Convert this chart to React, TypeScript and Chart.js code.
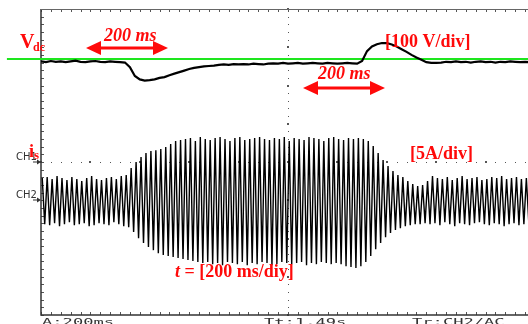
import React, { useEffect, useRef } from "react";
import { Chart, registerables } from "chart.js";

Chart.register(...registerables);

// Oscilloscope settings
const MS_PER_DIV = 200;
const VOLTS_PER_DIV = 100;
const AMPS_PER_DIV = 5;
const CH2_OFFSET_DIV = -0.97;
const SAMPLE_MS = 20; // one 50 Hz cycle per sample
const VDC_REF = 269;

// DC-link voltage (V), one sample per 20 ms
const vdcVolts = [
  263, 261, 264, 262, 263, 261, 263, 265, 262, 261, 263, 264, 262, 261, 263, 262, 261,
  260, 248, 225, 216, 213, 214, 216, 220, 222, 227, 231, 235, 239, 243, 246, 248, 250, 251, 252, 254,
  255, 254, 256, 255, 256, 255, 257, 256, 255, 257,
  258, 257, 259, 257, 258, 259, 257, 258, 259, 258, 257, 259, 258, 257, 258, 259, 258, 257,
  264, 290, 302, 308, 311, 311, 307, 302, 295, 288, 280, 273, 267, 261, 259, 259,
  260, 262, 261, 263, 261, 262, 260, 262, 263, 261, 262, 260, 262, 261, 263, 262, 261, 262, 261,
];

// Grid current positive peak per cycle (A)
const isPeakAmps = [
  2.75, 2.88, 2.61, 3.01, 2.75, 2.48, 2.88, 2.61, 2.35, 2.75, 3.01, 2.61, 2.48, 2.75, 2.88, 2.61, 3.01,
  3.14, 4.05, 4.84, 5.49, 6.01, 6.27, 6.4, 6.54, 6.8, 7.19, 7.58,
  7.71, 7.84, 7.97, 7.58, 8.1, 7.84, 7.71, 7.97, 8.1, 7.84, 7.58, 7.97, 8.1, 7.71, 7.84, 7.97, 8.1, 7.84,
  7.71, 7.97, 7.84, 8.1, 7.58, 7.97, 7.84, 7.71, 8.1, 7.97, 7.84, 7.58, 7.97, 8.1, 7.84, 7.71, 7.97, 7.84, 7.97,
  7.84, 7.58, 6.93, 6.01, 5.1, 4.31, 3.66, 3.14, 2.88, 2.35, 1.96, 1.7, 1.83, 2.35, 3.01,
  2.75, 2.61, 2.88, 2.48, 2.75, 3.01, 2.61, 2.75, 2.88, 2.48, 2.61, 2.88, 2.75, 3.01, 2.61, 2.75, 2.88, 2.61, 2.75, 2.88,
];

// Grid current negative peak per cycle (A)
const isTroughAmps = [
  -3.27, -3.4, -3.14, -3.53, -3.27, -3.01, -3.4, -3.27, -3.14, -3.53, -3.4, -3.14, -3.27, -3.4, -3.01, -3.27, -3.53,
  -3.66, -4.31, -5.1, -5.75, -6.27, -6.67, -7.06, -7.32, -7.45, -7.58, -7.71, -7.84, -7.97, -8.1, -8.23,
  -8.36, -8.23, -8.5, -8.36, -8.63, -8.23, -8.36, -8.5, -8.23, -8.63, -8.36, -8.5, -8.23, -8.36, -8.63, -8.5,
  -8.23, -8.36, -8.5, -8.36, -8.23, -8.63, -8.36, -8.5, -8.23, -8.36, -8.5,
  -8.36, -8.5, -8.76, -8.89, -9.02, -8.76,
  -8.23, -7.45, -6.54, -5.75, -4.97, -4.44, -4.05, -3.79, -3.53, -3.4, -3.27, -3.27, -3.14,
  -3.27, -3.14, -3.4, -3.01, -3.27, -3.53, -3.14, -3.27, -3.4, -3.14, -3.01, -3.27, -3.4, -3.14, -3.27, -3.53,
  -3.27, -3.14, -3.4, -3.27, -3.14, -3.27,
];

const bottomLabels = ["A:200ms", "Tt:1.49s", "Tr:CH2/AC"];

const RED = "#ff0a0a";
const SERIF = '"Liberation Serif", "Times New Roman", serif';

const scopeGrid = {
  id: "scopeGrid",
  beforeDatasetsDraw(chart: any) {
    const { ctx, chartArea: a, scales } = chart;
    const x = scales.x;
    const y = scales.y;
    ctx.save();
    ctx.fillStyle = "#555";
    for (let k = 0; k <= 50; k++) {
      const px = Math.round(x.getPixelForValue(k * MS_PER_DIV / 5));
      ctx.fillRect(px, a.top, 1, 3);
      ctx.fillRect(px, a.bottom - 3, 1, 3);
    }
    for (let k = 0; k <= 40; k++) {
      const py = Math.round(y.getPixelForValue(-4 + k * 0.2));
      ctx.fillRect(a.left, py, 3, 1);
    }
    const cx = Math.round(x.getPixelForValue(5 * MS_PER_DIV));
    for (let k = 0; k <= 40; k++) {
      const py = Math.round(y.getPixelForValue(-4 + k * 0.2));
      if (k % 5 === 0) ctx.fillRect(cx - 1, py - 1, 2, 2);
      else ctx.fillRect(cx, py, 1, 1);
    }
    const cy = Math.round(y.getPixelForValue(0));
    for (let k = 0; k <= 50; k++) {
      const px = Math.round(x.getPixelForValue(k * MS_PER_DIV / 5));
      if (k % 5 === 0) ctx.fillRect(px - 1, cy - 1, 2, 2);
      else ctx.fillRect(px, cy, 1, 1);
    }
    ctx.strokeStyle = "#333";
    ctx.lineWidth = 1.5;
    ctx.beginPath();
    ctx.moveTo(a.left, a.top);
    ctx.lineTo(a.left, a.bottom);
    ctx.lineTo(a.right, a.bottom);
    ctx.stroke();
    ctx.strokeStyle = "#666";
    ctx.lineWidth = 1;
    ctx.beginPath();
    ctx.moveTo(a.left, a.top + 0.5);
    ctx.lineTo(a.right, a.top + 0.5);
    ctx.stroke();
    ctx.restore();
  },
  afterDraw(chart: any) {
    const { ctx } = chart;
    ctx.save();
    // scope texts
    ctx.fillStyle = "#333";
    ctx.font = '10px "DejaVu Sans"';
    ctx.textBaseline = "alphabetic";
    ctx.fillText("CH1", 16, 160);
    ctx.fillText("CH2", 16, 198);
    const smallArrow = (yy: number) => {
      ctx.fillRect(33, yy - 0.5, 6, 1);
      ctx.beginPath();
      ctx.moveTo(41, yy);
      ctx.lineTo(37, yy - 2.5);
      ctx.lineTo(37, yy + 2.5);
      ctx.closePath();
      ctx.fill();
    };
    smallArrow(162);
    smallArrow(200);
    const bx = [42, 264, 412];
    ctx.font = '9px "DejaVu Sans Mono"';
    bottomLabels.forEach((t, i) => {
      ctx.save();
      ctx.translate(bx[i], 325);
      ctx.scale(1.9, 1);
      ctx.fillText(t, 0, 0);
      ctx.restore();
    });

    // red annotations
    ctx.fillStyle = RED;
    ctx.font = `bold 20px ${SERIF}`;
    ctx.fillText("V", 20, 48);
    ctx.font = `bold 12px ${SERIF}`;
    ctx.fillText("dc", 33, 51);

    ctx.font = `bold italic 18px ${SERIF}`;
    ctx.fillText("200 ms", 104, 41);
    ctx.fillText("200 ms", 318, 79);

    ctx.font = `bold 18px ${SERIF}`;
    ctx.fillText("[100 V/div]", 385, 47);
    ctx.fillText("[5A/div]", 410, 159);

    ctx.font = `bold 18px ${SERIF}`;
    ctx.fillText("i", 29, 157);
    ctx.font = `bold 13px ${SERIF}`;
    ctx.fillText("s", 34, 159);

    ctx.font = `bold italic 18px ${SERIF}`;
    ctx.fillText("t", 175, 277);
    const tw = ctx.measureText("t").width;
    ctx.font = `bold 18px ${SERIF}`;
    ctx.fillText(" = [200 ms/diy]", 175 + tw, 277);

    const dblArrow = (x1: number, x2: number, yy: number) => {
      const hl = 15, hh = 7;
      ctx.fillRect(x1 + hl - 1, yy - 1.5, x2 - x1 - 2 * hl + 2, 3);
      ctx.beginPath();
      ctx.moveTo(x1, yy);
      ctx.lineTo(x1 + hl, yy - hh);
      ctx.lineTo(x1 + hl, yy + hh);
      ctx.closePath();
      ctx.fill();
      ctx.beginPath();
      ctx.moveTo(x2, yy);
      ctx.lineTo(x2 - hl, yy - hh);
      ctx.lineTo(x2 - hl, yy + hh);
      ctx.closePath();
      ctx.fill();
    };
    dblArrow(86, 168, 48);
    dblArrow(303, 385, 88);
    ctx.restore();
  },
};

export default function App() {
  const ref = useRef<HTMLCanvasElement | null>(null);

  useEffect(() => {
    if (!ref.current) return;
    const vdcData = vdcVolts.map((v, i) => ({ x: i * SAMPLE_MS, y: v / VOLTS_PER_DIV }));
    const isData: { x: number; y: number }[] = [];
    isPeakAmps.forEach((p, i) => {
      isData.push({ x: i * SAMPLE_MS + SAMPLE_MS / 4, y: CH2_OFFSET_DIV + p / AMPS_PER_DIV });
      isData.push({ x: i * SAMPLE_MS + (3 * SAMPLE_MS) / 4, y: CH2_OFFSET_DIV + isTroughAmps[i] / AMPS_PER_DIV });
    });
    const refData = [
      { x: -0.69 * MS_PER_DIV, y: VDC_REF / VOLTS_PER_DIV },
      { x: 10 * MS_PER_DIV, y: VDC_REF / VOLTS_PER_DIV },
    ];

    const chart = new Chart(ref.current, {
      type: "line",
      data: {
        datasets: [
          { data: vdcData, borderColor: "#000", borderWidth: 2.2, pointRadius: 0, tension: 0, order: 1 },
          { data: isData, borderColor: "#000", borderWidth: 1.4, pointRadius: 0, tension: 0, order: 2 },
          { data: refData, borderColor: "#1ee61e", borderWidth: 2, pointRadius: 0, clip: false as any, order: 3 },
        ],
      },
      options: {
        animation: false,
        responsive: false,
        events: [],
        layout: { padding: { left: 41, top: 9, right: 5, bottom: 9 } },
        plugins: { legend: { display: false }, tooltip: { enabled: false } },
        scales: {
          x: { type: "linear", min: 0, max: 10 * MS_PER_DIV, display: false },
          y: { type: "linear", min: -4, max: 4, display: false },
        },
      },
      plugins: [scopeGrid],
    });
    return () => chart.destroy();
  }, []);

  return (
    <div style={{ position: "absolute", left: 0, top: 0, width: 528, height: 324, overflow: "hidden", background: "#fff" }}>
      <canvas ref={ref} width={540} height={324} style={{ width: 540, height: 324, display: "block" }} />
    </div>
  );
}
